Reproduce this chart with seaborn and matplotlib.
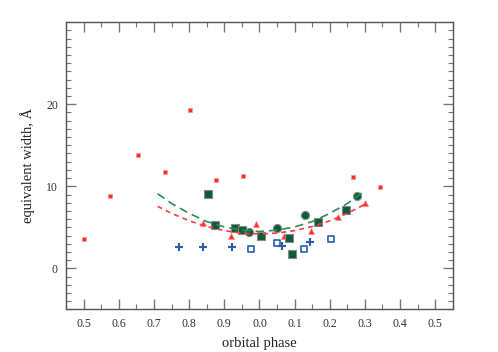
import matplotlib
matplotlib.use("Agg")
import matplotlib.pyplot as plt
from matplotlib.ticker import MultipleLocator, FixedLocator, FixedFormatter
import seaborn as sns
import pandas as pd

# phase is unwrapped (0.5 .. 1.5), labels are shown mod 1
red_sq_phase = [0.500, 0.574, 0.653, 0.730, 0.801, 0.877, 0.953, 1.266, 1.342]
red_sq_ew = [3.6, 8.8, 13.8, 11.7, 19.3, 10.8, 11.2, 11.1, 9.9]

red_tri_phase = [0.839, 0.919, 0.990, 1.069, 1.147, 1.223, 1.301]
red_tri_ew = [5.5, 3.9, 5.4, 3.9, 4.5, 6.2, 8.0]

green_sq_phase = [0.854, 0.874, 0.930, 0.949, 1.003, 1.083, 1.093, 1.168, 1.245]
green_sq_ew = [9.1, 5.3, 4.9, 4.7, 4.0, 3.7, 1.8, 5.7, 7.1]

green_circ_phase = [0.970, 1.049, 1.131, 1.277]
green_circ_ew = [4.4, 4.9, 6.5, 8.85]

blue_sq_phase = [0.975, 1.050, 1.126, 1.204]
blue_sq_ew = [2.4, 3.1, 2.3, 3.6]

blue_cross_phase = [0.771, 0.839, 0.923, 1.064, 1.144]
blue_cross_ew = [2.6, 2.6, 2.65, 2.7, 3.2]

# dashed fit curves
fit_phase = [0.71, 0.75, 0.80, 0.85, 0.90, 0.95, 1.00, 1.05, 1.10, 1.15, 1.20, 1.25, 1.30]
green_fit = [9.1, 7.9, 6.7, 5.7, 5.05, 4.65, 4.5, 4.65, 5.05, 5.7, 6.7, 7.9, 9.45]
red_fit = [7.56, 6.7, 5.8, 5.1, 4.6, 4.3, 4.2, 4.3, 4.6, 5.1, 5.8, 6.7, 7.8]

sns.set_style("ticks")
plt.rcParams['font.family'] = ['Liberation Serif', 'DejaVu Serif']

fig = plt.figure(figsize=(4.98, 3.52), dpi=100)
ax = fig.add_axes([0.133, 0.121, 0.776, 0.816])

sns.lineplot(x=fit_phase, y=green_fit, ax=ax, color='#2e8b57', lw=1.2,
             dashes=False, linestyle=(0, (5, 3)))
sns.lineplot(x=fit_phase, y=red_fit, ax=ax, color='#ff3b3b', lw=1.2,
             linestyle=(0, (3, 2.5)))

sns.scatterplot(x=red_sq_phase, y=red_sq_ew, ax=ax, marker='s', s=9,
                color='#ff2a2a', edgecolor='#ff9090', linewidth=0.5)
sns.scatterplot(x=red_tri_phase, y=red_tri_ew, ax=ax, marker='^', s=18,
                color='#ff3030', edgecolor='#ff8080', linewidth=0.5)
sns.scatterplot(x=green_sq_phase, y=green_sq_ew, ax=ax, marker='s', s=26,
                color='#0b5a38', edgecolor='#8a8a8a', linewidth=0.8)
sns.scatterplot(x=green_circ_phase, y=green_circ_ew, ax=ax, marker='o', s=34,
                color='#0b5a38', edgecolor='#8a8a8a', linewidth=0.8)
sns.scatterplot(x=blue_sq_phase, y=blue_sq_ew, ax=ax, marker='s', s=24,
                facecolor='white', edgecolor='#2a5cb0', linewidth=1.2)
sns.scatterplot(x=blue_cross_phase, y=blue_cross_ew, ax=ax, marker='+', s=36,
                color='#2a5cb0', linewidth=1.5)

ax.set_xlim(0.45, 1.55)
ax.set_ylim(-5, 30)

xt = [0.5 + 0.1 * i for i in range(11)]
ax.xaxis.set_major_locator(FixedLocator(xt))
ax.xaxis.set_major_formatter(FixedFormatter([f"{t % 1:.1f}" for t in xt]))
ax.xaxis.set_minor_locator(MultipleLocator(0.05))
ax.yaxis.set_major_locator(FixedLocator([0, 10, 20]))
ax.yaxis.set_minor_locator(MultipleLocator(1))

ax.tick_params(which='both', direction='in', top=True, right=True,
               color='#777777', labelsize=8.5, labelcolor='#333333')
ax.tick_params(which='major', length=7, width=1, pad=6)
ax.tick_params(which='minor', length=3.5, width=0.8)
for sp in ax.spines.values():
    sp.set_color('#555555')
    sp.set_linewidth(1)

ax.set_xlabel('orbital phase', fontsize=10.5, color='#222222', labelpad=5)
ax.set_ylabel('equivalent width, Å', fontsize=10.5, color='#222222', labelpad=8)

fig.savefig('out.png', dpi=100)
